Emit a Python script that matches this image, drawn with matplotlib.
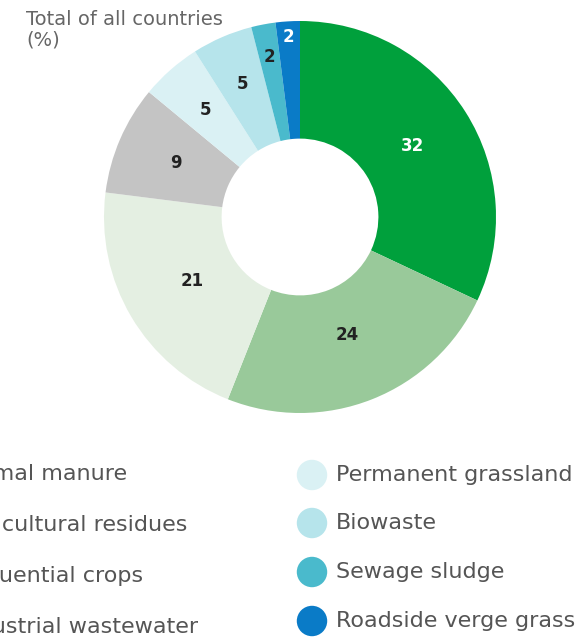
import matplotlib
matplotlib.use("Agg")
import matplotlib.pyplot as plt
import numpy as np

categories = ["Animal manure", "Agricultural residues", "Sequential crops",
              "Industrial wastewater", "Permanent grassland", "Biowaste",
              "Sewage sludge", "Roadside verge grass"]
values = [32, 24, 21, 9, 5, 5, 2, 2]
colors = ["#00a03c", "#99c99a", "#e4efe2", "#c4c4c4",
          "#daf1f4", "#b6e4eb", "#4abacc", "#0a7bc7"]
label_colors = ["white", "#222222", "#222222", "#222222",
                "#222222", "#222222", "#222222", "white"]
label_radius = [0.68, 0.65, 0.64, 0.69, 0.73, 0.74, 0.83, 0.92]
title = "Total of all countries\n(%)"

W, H = 577, 639
fig = plt.figure(figsize=(W / 100, H / 100), dpi=100)
FONT = ["DejaVu Sans"]

cx, cy, R = 300, 217, 196
ax = fig.add_axes([(cx - R) / W, 1 - (cy + R) / H, 2 * R / W, 2 * R / H])
wedges, _ = ax.pie(values, colors=colors, startangle=90, counterclock=False,
                   radius=1, wedgeprops=dict(width=0.6, linewidth=0))
ax.set_xlim(-1, 1)
ax.set_ylim(-1, 1)
ax.set_aspect("equal")
ax.axis("off")

for w, v, c, r in zip(wedges, values, label_colors, label_radius):
    ang = np.deg2rad((w.theta1 + w.theta2) / 2)
    ax.text(r * np.cos(ang), r * np.sin(ang), str(v), ha="center", va="center",
            fontsize=12, fontweight="bold", color=c, family=FONT)

# overlay axes in pixel coordinates for title and legend
ov = fig.add_axes([0, 0, 1, 1])
ov.set_xlim(0, W)
ov.set_ylim(H, 0)
ov.axis("off")

ov.text(26, 10, title, ha="left", va="top", fontsize=14, color="#666666",
        family=FONT, linespacing=1.12)

rows_y = [[474, 525, 576, 627], [475, 523, 572, 621]]
col_x = [-67, 312]
for i, (cat, col) in enumerate(zip(categories, colors)):
    colidx = i // 4
    y = rows_y[colidx][i % 4]
    x = col_x[colidx]
    ov.scatter([x], [y], s=480, color=col, edgecolor="none", clip_on=False)
    ov.text(x + 24, y, cat, ha="left", va="center", fontsize=16,
            color="#555555", family=FONT)

fig.savefig("out.png", dpi=100)
